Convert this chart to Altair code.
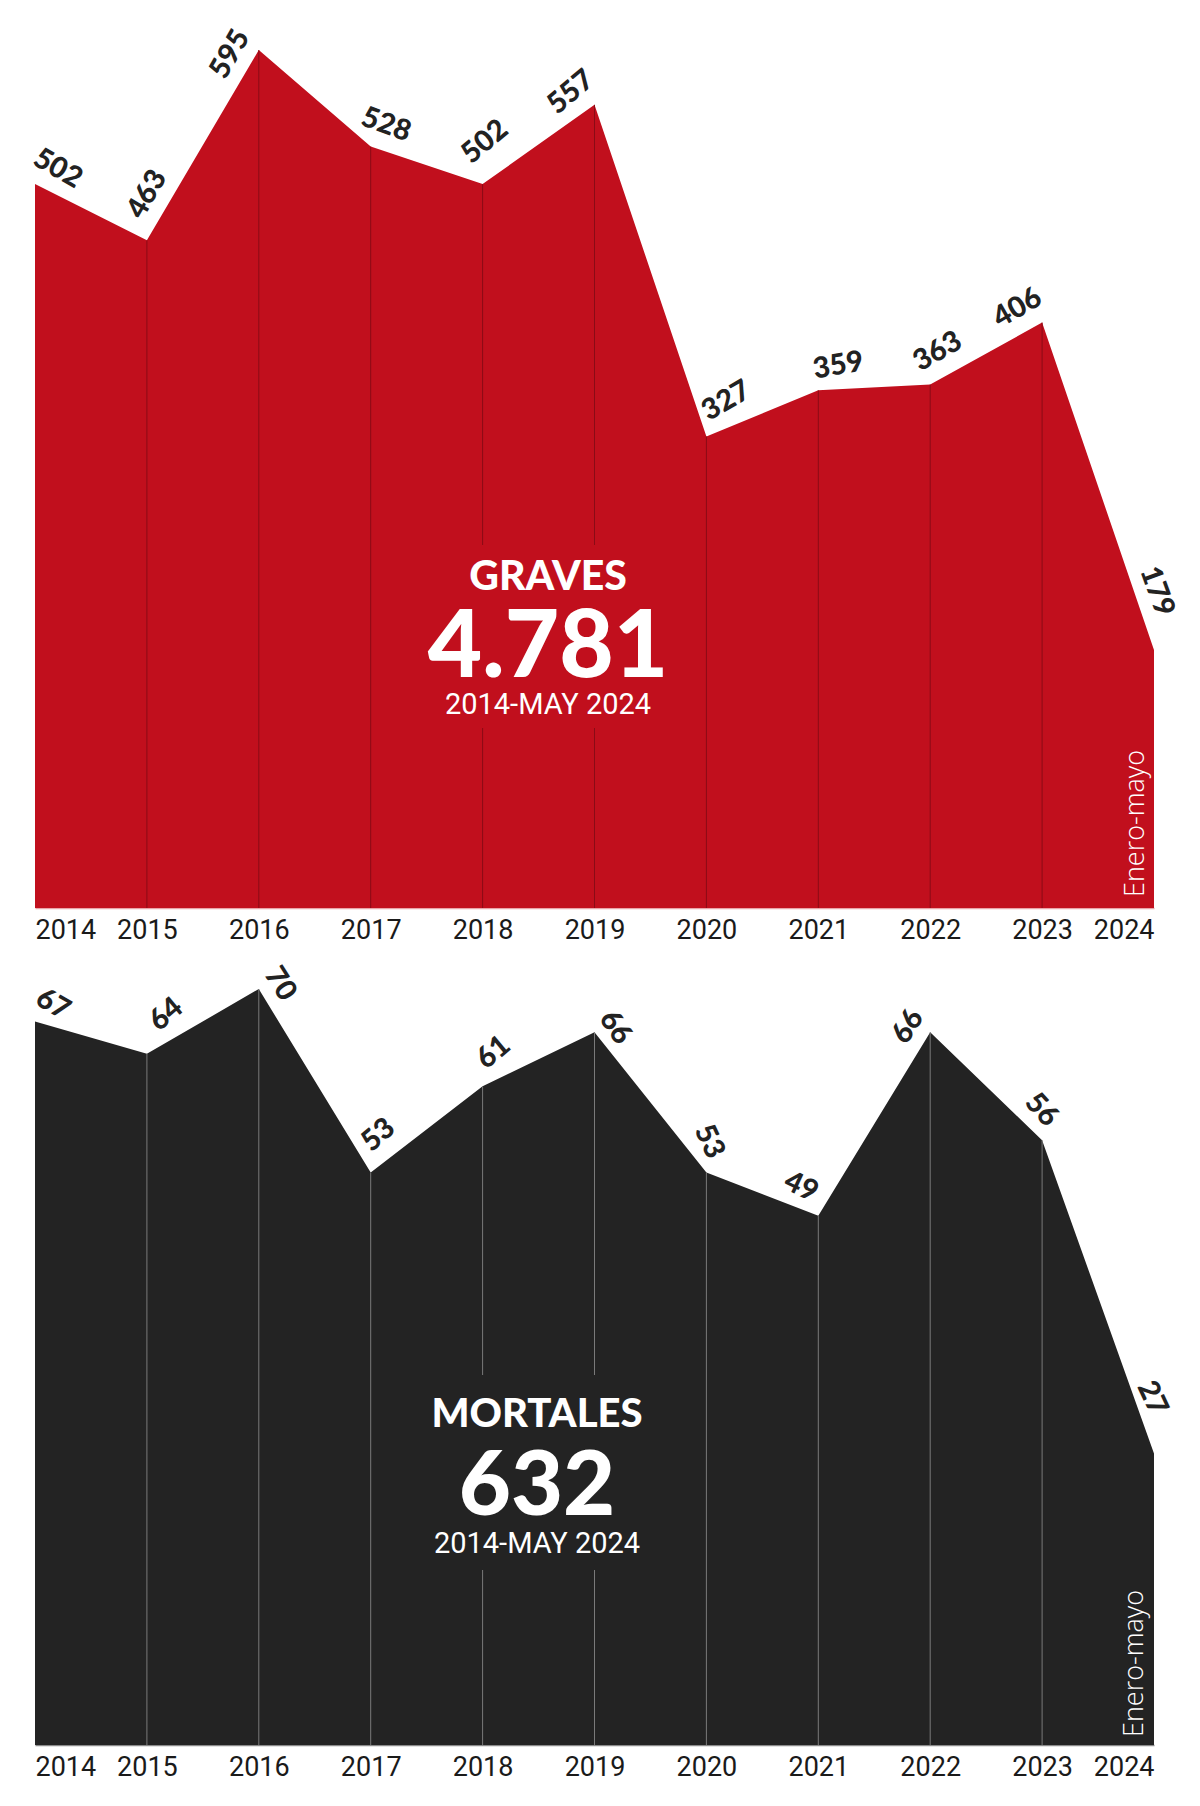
import altair as alt
import pandas as pd

# ---------------- data ----------------
years = [2014, 2015, 2016, 2017, 2018, 2019, 2020, 2021, 2022, 2023, 2024]
graves = [502, 463, 595, 528, 502, 557, 327, 359, 363, 406, 179]
mortales = [67, 64, 70, 53, 61, 66, 53, 49, 66, 56, 27]
titles = ["GRAVES", "MORTALES"]
period_label = "2014-MAY 2024"
partial_label = "Enero-mayo"

# ---------------- styles ----------------
RED = "#c10f1d"
DARK = "#232323"
LABEL_FONT = "Lato"
YEAR_FONT = "Roboto"
NOTE_FONT = "Open Sans"

# per-label style: (angle, dx along text, dy across text)
graves_label_style = [(30, 12, -25), (300, 40, -23), (300, -18, -23), (20, 7, -26),
                      (320, 29, -31), (320, -10, -25), (330, 35, -21), (350, 24, -21),
                      (330, 23, -25), (330, -14, -25), (70, -54, -23)]
mortales_label_style = [(30, 7, -24), (320, 40, -18), (58, 7, -21), (320, 30, -24),
                        (320, 30, -19), (55, 8, -20), (65, -27, -16), (25, -28, -19),
                        (302, -7, -22), (48, -23, -20), (65, -51, -22)]

PLOT_W = 1119
LEFT_GUTTER = 27


def fmt_total(n):
    return f"{n:,}".replace(",", ".")


def panel(values, title, fill, rule_color, domain_color, height, ymax, styles,
          cx, title_y, total_y, period_y, title_size, total_size, bg, note_x, note_y):
    df = pd.DataFrame({"year": years, "value": values})
    x = alt.X("year:Q",
              scale=alt.Scale(domain=[years[0], years[-1]], nice=False, zero=False),
              axis=alt.Axis(values=years, format="d", labelFlush=True, labelOverlap=False,
                            labelFont=YEAR_FONT, labelFontSize=27, labelFontWeight="normal",
                            labelColor="#1a1a1a", labelPadding=9, ticks=False, tickSize=0,
                            grid=False, domain=True, domainColor=domain_color,
                            domainWidth=1.5, title=None))
    y = alt.Y("value:Q", scale=alt.Scale(domain=[0, ymax], nice=False), axis=None)
    base = alt.Chart(df).encode(x=x, y=y)

    layers = [
        base.mark_area(color=fill, opacity=1, interpolate="linear"),
        base.transform_filter(
            (alt.datum.year > years[0]) & (alt.datum.year < years[-1])
        ).mark_rule(color=rule_color, strokeWidth=1).encode(y2=alt.datum(0)),
    ]

    ann = pd.DataFrame({"title": [title], "total": [fmt_total(sum(values))],
                        "period": [period_label], "note": [partial_label]})
    abase = alt.Chart(ann)
    # invisible left-gutter marker so the plot sits at a fixed distance from the page edge
    layers.append(abase.mark_rule(color="white", opacity=0).encode(
        x=alt.value(-LEFT_GUTTER), y=alt.value(height - 2), y2=alt.value(height)))
    layers.append(abase.mark_rect(color=fill).encode(
        x=alt.value(bg[0]), x2=alt.value(bg[1]), y=alt.value(bg[2]), y2=alt.value(bg[3])))

    for i, (a, dx, dy) in enumerate(styles):
        layers.append(
            base.transform_filter(alt.datum.year == years[i]).mark_text(
                angle=a, dx=dx, dy=dy, align="center", baseline="middle",
                font=LABEL_FONT, fontSize=29, fontWeight=900, color="#222222"
            ).encode(text="value:Q")
        )

    layers.append(abase.mark_text(font=LABEL_FONT, fontSize=title_size, fontWeight=900,
                                  color="white", align="center", baseline="alphabetic")
                  .encode(text="title:N", x=alt.value(cx), y=alt.value(title_y)))
    layers.append(abase.mark_text(font=LABEL_FONT, fontSize=total_size, fontWeight=900,
                                  color="white", align="center", baseline="alphabetic")
                  .encode(text="total:N", x=alt.value(cx), y=alt.value(total_y)))
    layers.append(abase.mark_text(font=YEAR_FONT, fontSize=29, fontWeight="normal",
                                  color="white", align="center", baseline="alphabetic")
                  .encode(text="period:N", x=alt.value(cx), y=alt.value(period_y)))
    layers.append(abase.mark_text(font=NOTE_FONT, fontSize=27, fontWeight=300,
                                  color="white", align="left", baseline="middle", angle=270)
                  .encode(text="note:N", x=alt.value(note_x), y=alt.value(note_y)))

    return alt.layer(*layers).properties(width=PLOT_W, height=height)


top = panel(graves, titles[0], RED, "#8a0b16", "#e9a3a8", 890, 890 / 1.442,
            graves_label_style, 513, 572, 659, 696, 41, 94,
            (385, 640, 527, 710), 1101, 879)
bottom = panel(mortales, titles[1], DARK, "#7a7a7a", "#8a8a8a", 785, 785 / 10.8,
               mortales_label_style, 502, 467, 555, 593, 40, 90,
               (385, 620, 415, 610), 1100, 777)

chart = alt.vconcat(top, bottom, spacing=52, bounds="flush").properties(
    padding={"left": 0, "top": 10, "right": 5, "bottom": 5},
    background="white",
).configure_view(stroke=None)

chart.save("out.html", embed_options={"renderer": "svg", "actions": False})
